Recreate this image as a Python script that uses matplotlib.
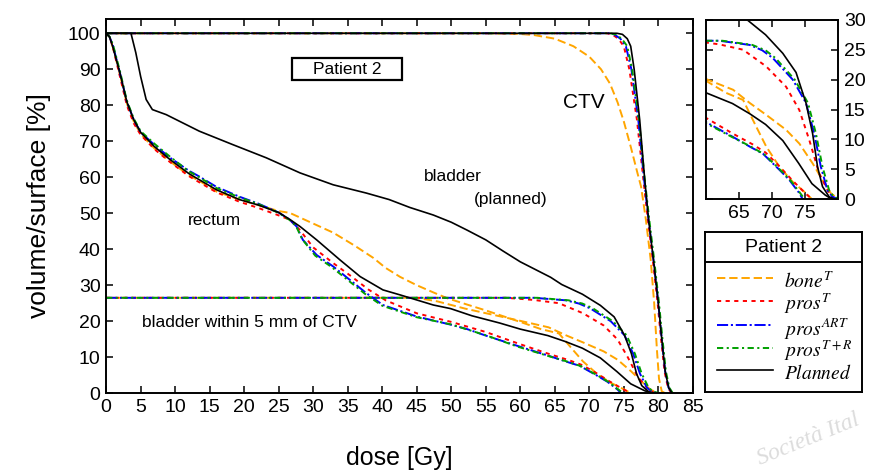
import matplotlib.pyplot as plt
from matplotlib.patches import Rectangle

plt.rcParams['font.family'] = ['Liberation Sans', 'DejaVu Sans']
plt.rcParams['mathtext.fontset'] = 'stix'
plt.rcParams['lines.scale_dashes'] = False

plans = ['bone', 'prosT', 'prosART', 'prosTR', 'planned']
plan_labels = [r'$bone^{T}$', r'$pros^{T}$', r'$pros^{ART}$', r'$pros^{T+R}$', r'$Planned$']

# CTV (all plans share the volume steps, dose read per plan)
ctv_vol = [100, 100, 99.7, 98.5, 96.4, 90, 76, 60, 48, 37, 25, 15, 6, 1.5, 0]
ctv_dose_prosT = [0, 72.5, 73.3, 74.2, 75.0, 75.8, 76.9, 77.8, 78.5, 79.2, 79.9, 80.4, 80.9, 81.4, 81.9]
ctv_dose_prosART = [0, 72.8, 73.6, 74.5, 75.3, 76.1, 77.1, 77.9, 78.6, 79.3, 80.0, 80.5, 81.0, 81.5, 82.0]
ctv_dose_prosTR = [0, 73.0, 73.8, 74.7, 75.5, 76.2, 77.2, 78.0, 78.7, 79.4, 80.1, 80.6, 81.1, 81.6, 82.1]
ctv_dose_planned = [0, 74.0, 74.8, 75.5, 76.0, 76.5, 77.3, 78.0, 78.6, 79.3, 80.0, 80.5, 81.0, 81.5, 82.0]
ctv_dose_bone = [0, 55, 60, 62, 65, 67.7, 70, 71.7, 73, 74.1, 75, 76, 77, 77.5, 78.2, 78.9, 79.4, 79.8, 80.1, 80.5, 81]
ctv_vol_bone = [100, 100, 99.8, 99.5, 98.5, 96.4, 93.5, 90, 86, 80.8, 75.5, 68.5, 61, 57.4, 48.2, 37, 25, 12, 4, 0.5, 0]

# rectum
rec_dose_planned = [0, 0.5, 1, 2, 3, 4, 5, 7, 9.2, 12, 13.5, 16, 19.3, 22, 25, 26.6, 28.1, 30.5, 33.9, 36.8,
                    40.1, 42.6, 45, 47.4, 49.9, 53, 57, 60, 64, 66.6, 69, 71.6, 74, 76, 78, 79]
rec_vol_planned = [100, 99, 96, 89, 81, 76, 72.5, 68.5, 65, 61, 59.3, 56.5, 53.8, 52.3, 50.2, 48.3, 46.3, 42.6, 37, 32.4,
                   28.7, 27.3, 25.9, 24.5, 23.5, 21.5, 19.5, 17.8, 16, 14.3, 12.5, 9.8, 6, 2.6, 0.7, 0]
rec_dose_bone = [0, 0.5, 1, 2, 3, 4, 5, 7, 9.2, 12, 13.5, 16, 19.3, 22, 25, 26.6, 29, 32.9, 36, 38.7,
                 40.5, 42.6, 45, 47.4, 49.4, 52, 55, 60, 63, 65.6, 67.6, 69.1, 71.1, 73.1, 75.1, 76]
rec_vol_bone = [100, 99, 96, 88.5, 80.5, 75.5, 72, 68, 64.5, 60.5, 59, 56, 53.8, 52.3, 50.6, 50.1, 48, 44.6, 41, 37.6,
                34.8, 32.3, 30.0, 28.0, 26.4, 24.8, 23, 19.8, 17.8, 16.6, 12.1, 8.8, 5.4, 2.9, 1, 0]
rec_dose_prosT = [0, 0.5, 1, 2, 3, 4, 5, 7, 9.2, 12, 13.5, 16, 19.3, 22, 25, 26.6, 28, 30, 33, 35.5,
                  38, 40.5, 45, 50, 55, 60, 64, 67, 69, 71, 73, 75, 76]
rec_vol_prosT = [100, 99, 96, 88, 80, 75, 71.8, 67.8, 64.3, 60.3, 58.6, 55.8, 53.2, 51.5, 49.4, 48.2, 45.5, 40.5, 36, 32.5,
                 28.8, 25.8, 22.2, 19.8, 17, 13.6, 11, 9.2, 7.8, 5.6, 3.2, 1, 0]
rec_dose_prosART = [0, 0.5, 1, 2, 3, 4, 5, 7, 9.2, 12, 13.5, 16, 19.3, 22, 25, 26.6, 27.6, 28.5, 30.5, 32.9,
                    35.3, 37.7, 40.1, 45, 50, 52.3, 55, 59.5, 64.1, 66.6, 68.6, 71.1, 72.6, 74.1, 74.6]
rec_vol_prosART = [100, 99, 96.5, 89, 81, 76, 72.5, 69, 65.5, 61.8, 60.2, 57.3, 54.6, 52.7, 50.2, 48.2, 46.3, 42.6, 38.4, 35.2,
                   31.5, 27.8, 24.5, 21.3, 19.0, 17.8, 16, 13.2, 10.4, 8.8, 7.6, 4.9, 3.2, 1, 0]
rec_dose_prosTR = [0, 0.5, 1, 2, 3, 4, 5, 7, 9.2, 12, 13.5, 16, 19.3, 22, 25, 26.6, 27.5, 28.4, 30.3, 32.7,
                   35.1, 37.5, 40.0, 45, 50, 52.3, 55, 59.5, 64.1, 66.6, 68.8, 71.3, 72.8, 74.3, 74.9]
rec_vol_prosTR = [100, 99, 96.8, 89.5, 81.3, 76.3, 72.8, 69.3, 65.8, 61.6, 60.0, 57.0, 54.4, 52.6, 50.1, 48.1, 46.5, 42.8, 38.2, 35.0,
                  31.3, 27.6, 24.3, 21.1, 19.1, 17.7, 16.1, 13.0, 10.3, 8.9, 7.5, 4.8, 3.1, 0.9, 0]

# bladder (planned only)
bla_dose_planned = [0, 3.6, 4.3, 5.0, 5.8, 6.7, 8.7, 13.5, 18.3, 23.2, 28.1, 32.9, 37.7, 41, 44, 47.4,
                    50, 52.3, 55, 57.5, 60, 64.4, 66, 69, 71.6, 73.6, 75.1, 76.1, 76.85, 77.6, 78.6, 79.5]
bla_vol_planned = [100, 100, 94.6, 88, 81.6, 78.8, 77.4, 72.8, 69.1, 65.4, 61.2, 57.9, 55.6, 53.8, 51.6, 49.5,
                   47.5, 45.3, 42.6, 39.5, 36.5, 32.2, 30.2, 27.5, 24.4, 21.2, 16.1, 11, 5.4, 2.1, 0.4, 0]

# bladder surface within 5 mm of CTV
b5_dose_bone = [0, 45, 48, 52, 56, 60, 64.1, 66.6, 69.1, 72.1, 74.1, 76.1, 77.6, 78.85, 80]
b5_vol_bone = [26.5, 26.5, 25.5, 23.5, 21.8, 20.1, 18.3, 16.1, 14.1, 11.6, 9.3, 6, 3.2, 1, 0]
b5_dose_prosT = [0, 58, 60, 62, 65.6, 69.1, 72.1, 74.1, 75.6, 77.1, 78.6, 79.5]
b5_vol_prosT = [26.5, 26.5, 26.2, 25.9, 25, 22.2, 18.8, 14.9, 9.9, 4.3, 1, 0]
b5_vol = [26.5, 26.5, 25.8, 24.9, 23.6, 20, 16.1, 11, 5.4, 1.5, 0.4, 0]
b5_dose_prosART = [0, 62, 66.6, 68.5, 70.1, 73.1, 75.1, 76.35, 77.35, 78.35, 79.1, 80]
b5_dose_prosTR = [0, 62.5, 67, 69, 70.5, 73.4, 75.4, 76.6, 77.6, 78.6, 79.3, 80.2]

ctv_curves = {
    'bone': (ctv_dose_bone, ctv_vol_bone),
    'prosT': (ctv_dose_prosT, ctv_vol),
    'prosART': (ctv_dose_prosART, ctv_vol),
    'prosTR': (ctv_dose_prosTR, ctv_vol),
    'planned': (ctv_dose_planned, ctv_vol),
}
oar_curves = {
    'bone': [(rec_dose_bone, rec_vol_bone), (b5_dose_bone, b5_vol_bone)],
    'prosT': [(rec_dose_prosT, rec_vol_prosT), (b5_dose_prosT, b5_vol_prosT)],
    'prosART': [(rec_dose_prosART, rec_vol_prosART), (b5_dose_prosART, b5_vol)],
    'prosTR': [(rec_dose_prosTR, rec_vol_prosTR), (b5_dose_prosTR, b5_vol)],
    'planned': [(rec_dose_planned, rec_vol_planned), (bla_dose_planned, bla_vol_planned)],
}

styles = {
    'bone': dict(color='#ffa500', dashes=(6, 2.8), lw=1.4),
    'prosT': dict(color='#ff0000', dashes=(3, 3.2), lw=1.4),
    'prosART': dict(color='#0000ff', dashes=(8, 2, 1.5, 2), lw=1.4),
    'prosTR': dict(color='#00a000', dashes=(4.5, 2.5, 1.5, 2.5), lw=1.4),
    'planned': dict(color='black', lw=1.2),
}


def draw(ax, with_ctv=True):
    for p in plans:
        if with_ctv:
            d, v = ctv_curves[p]
            ax.plot(d, v, **styles[p])
        for d, v in oar_curves[p]:
            ax.plot(d, v, **styles[p])


fig = plt.figure(figsize=(8.77, 4.72), dpi=100)

# main panel
ax = fig.add_axes([0.121, 0.167, 0.669, 0.793])
draw(ax)
ax.set_xlim(0, 85)
ax.set_ylim(0, 104)
ax.set_xticks(range(0, 86, 5))
ax.set_yticks(range(0, 101, 10))
ax.tick_params(direction='in', top=True, right=True, length=5, width=1.1, labelsize=14, pad=4)
for s in ax.spines.values():
    s.set_linewidth(1.4)
ax.set_xlabel('dose [Gy]', fontsize=18, labelpad=22)
ax.set_ylabel('volume/surface [%]', fontsize=19, labelpad=12)

ax.add_patch(Rectangle((26.9, 86.9), 16.0, 6.1, fill=False, lw=1.6, ec='black', zorder=5))
ax.text(34.9, 89.9, 'Patient 2', ha='center', va='center', fontsize=12.5)
ax.text(69.2, 80.8, 'CTV', ha='center', va='center', fontsize=15)
ax.text(50.3, 60.2, 'bladder', ha='center', va='center', fontsize=12.5)
ax.text(58.6, 53.8, '(planned)', ha='center', va='center', fontsize=12.5)
ax.text(15.7, 47.9, 'rectum', ha='center', va='center', fontsize=12.5)
ax.text(5.2, 19.5, 'bladder within 5 mm of CTV', ha='left', va='center', fontsize=12.5)

# zoomed inset (organs at risk only)
axi = fig.add_axes([0.805, 0.578, 0.151, 0.380])
draw(axi, with_ctv=False)
axi.set_xlim(60, 80)
axi.set_ylim(0, 30)
axi.set_xticks([65, 70, 75])
axi.set_yticks(range(0, 31, 5))
axi.yaxis.tick_right()
axi.tick_params(direction='in', top=True, left=True, right=True, length=5, width=1.1, labelsize=14, pad=4)
for s in axi.spines.values():
    s.set_linewidth(1.4)

# legend box
lax = fig.add_axes([0.804, 0.169, 0.179, 0.339])
lax.set_xlim(0, 1)
lax.set_ylim(0, 1)
lax.set_xticks([])
lax.set_yticks([])
for s in lax.spines.values():
    s.set_linewidth(1.4)
lax.axhline(0.816, color='black', lw=1.4)
lax.text(0.5, 0.905, 'Patient 2', ha='center', va='center', fontsize=14)
ly = [0.712, 0.572, 0.421, 0.276, 0.138]
for p, lab, y in zip(plans, plan_labels, ly):
    lax.plot([0.076, 0.43], [y, y], **styles[p])
    lax.text(0.5, y - 0.02, lab, ha='left', va='center', fontsize=14)

fig.text(0.86, 0.005, 'Società Ital', rotation=22, color='#dcdcdc', fontsize=17,
         family='Liberation Serif', style='italic', ha='left', va='bottom')

plt.savefig('out.png', dpi=100)
